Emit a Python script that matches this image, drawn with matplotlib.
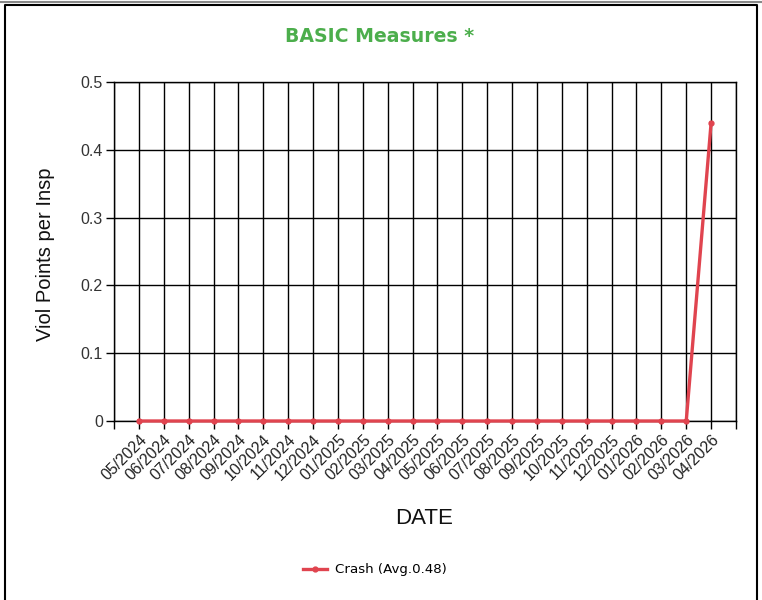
import matplotlib
matplotlib.use("Agg")
import matplotlib.pyplot as plt
from matplotlib.lines import Line2D

dates = ["05/2024", "06/2024", "07/2024", "08/2024", "09/2024", "10/2024", "11/2024",
         "12/2024", "01/2025", "02/2025", "03/2025", "04/2025", "05/2025", "06/2025",
         "07/2025", "08/2025", "09/2025", "10/2025", "11/2025", "12/2025", "01/2026",
         "02/2026", "03/2026", "04/2026"]
crash = [0, 0, 0, 0, 0, 0, 0, 0, 0, 0, 0, 0, 0, 0, 0, 0, 0, 0, 0, 0, 0, 0, 0, 0.44]
yticks = [0, 0.1, 0.2, 0.3, 0.4, 0.5]
ytick_labels = ["0", "0.1", "0.2", "0.3", "0.4", "0.5"]

W, H = 762, 600
fig = plt.figure(figsize=(W / 100, H / 100), dpi=100)
ax = fig.add_axes([114 / W, 1 - 421 / H, (736 - 114) / W, (421 - 82) / H])

x = list(range(len(dates)))
ax.plot(x, crash, color="#e0444f", lw=2.4, marker="o", ms=3.5, zorder=5, clip_on=False,
        label="Crash (Avg.0.48)")

ax.set_xlim(-1, len(dates))
ax.set_ylim(0, 0.5)
ax.set_xticks(list(range(-1, len(dates) + 1)))
ax.set_xticklabels([""] + dates + [""], rotation=45, ha="right", rotation_mode="anchor",
                   fontsize=11.4, family="Liberation Sans", color="#222222")
ax.set_yticks(yticks)
ax.set_yticklabels(ytick_labels, fontsize=11.5, family="Liberation Sans", color="#333333")
ax.tick_params(axis="both", direction="out", length=6, width=1, color="black")
ax.tick_params(axis="x", pad=2)
ax.tick_params(axis="y", pad=2)
ax.grid(True, color="black", lw=1)
ax.set_axisbelow(True)
for s in ax.spines.values():
    s.set_color("black")
    s.set_linewidth(1)

fig.text(46 / W, 1 - 254 / H, "Viol Points per Insp", rotation=90, ha="center", va="center",
         fontsize=14.5, family="Liberation Sans", color="#111111")
fig.text(424 / W, 1 - 518 / H, "DATE", ha="center", va="center",
         fontsize=16, family="Liberation Sans", color="#111111")
fig.text(380 / W, 1 - 37 / H, "BASIC Measures *", ha="center", va="center",
         fontsize=13.6, family="DejaVu Sans", weight="bold", color="#4cae4c")

fig.legend(loc="center", bbox_to_anchor=(375 / W, 1 - 570 / H), frameon=False,
           handlelength=1.8, handletextpad=0.6,
           prop={"family": "DejaVu Sans", "size": 9.6})

# page border
fig.add_artist(Line2D([0, 1], [1 - 1.5 / H, 1 - 1.5 / H], transform=fig.transFigure,
                      color="#888888", lw=1.5))
fig.add_artist(Line2D([4.5 / W, 4.5 / W, 756.5 / W, 756.5 / W],
                      [0, 1 - 4.5 / H, 1 - 4.5 / H, 0], transform=fig.transFigure,
                      color="black", lw=1.5))

fig.savefig("out.png", dpi=100)
